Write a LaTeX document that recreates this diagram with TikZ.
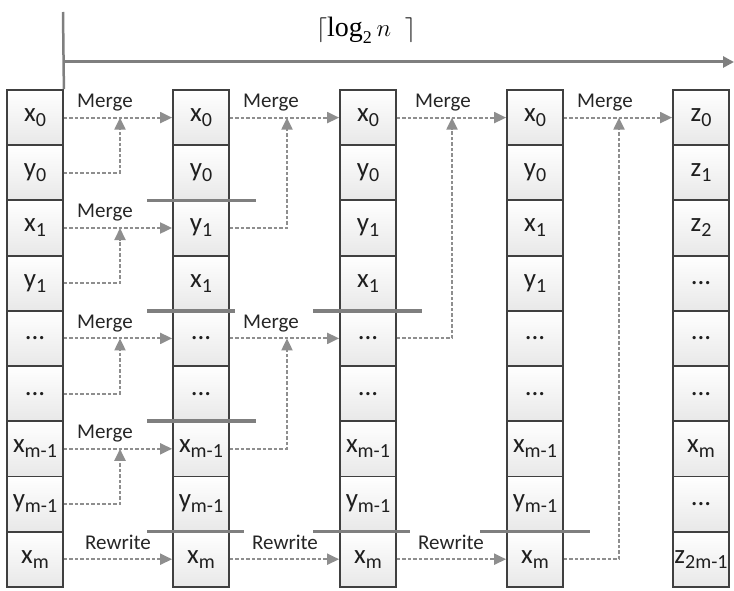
\documentclass[tikz,border=0pt]{standalone}
\usepackage[no-math]{fontspec}
\setmainfont{Carlito}
\newfontfamily\lsf{Liberation Serif}
\usetikzlibrary{arrows.meta}
\definecolor{bordc}{HTML}{404040}
\definecolor{lnc}{HTML}{8E8E8E}
\definecolor{axc}{HTML}{7F7F7F}
\newcommand\cellt[2]{#1\raisebox{-5pt}{\fontsize{20}{20}\selectfont #2}}
\newcommand\ddd{...}
\begin{document}
\begin{tikzpicture}[x=1pt,y=-1pt,
  cell/.style={draw=bordc, line width=1.8pt, minimum width=56pt, minimum height=55.2pt,
    inner sep=0pt, top color=white, bottom color=black!9, font=\fontsize{27}{27}\selectfont, text=black!88},
  conn/.style={draw=lnc, line width=2pt, dash pattern=on 3.5pt off 2pt,
    -{Triangle[length=12pt,width=11pt]}},
  lab/.style={font=\fontsize{21}{21}\selectfont, fill=white, inner xsep=8pt, inner ysep=7pt,
    anchor=base, text=black!85},
  bar/.style={draw=axc, line width=3.5pt},
  axis/.style={draw=axc, line width=3pt},
]
\useasboundingbox (0,0) rectangle (734,591);

% column 1
\node[cell] (c1r0) at (35,117.6) {\cellt{x}{0}};
\node[cell] (c1r1) at (35,172.8) {\cellt{y}{0}};
\node[cell] (c1r2) at (35,228.0) {\cellt{x}{1}};
\node[cell] (c1r3) at (35,283.2) {\cellt{y}{1}};
\node[cell] (c1r4) at (35,338.4) {\ddd};
\node[cell] (c1r5) at (35,393.6) {\ddd};
\node[cell] (c1r6) at (35,448.8) {\cellt{x}{m-1}};
\node[cell] (c1r7) at (35,504.0) {\cellt{y}{m-1}};
\node[cell] (c1r8) at (35,559.2) {\cellt{x}{m}};
% column 2
\node[cell] (c2r0) at (201,117.6) {\cellt{x}{0}};
\node[cell] (c2r1) at (201,172.8) {\cellt{y}{0}};
\node[cell] (c2r2) at (201,228.0) {\cellt{y}{1}};
\node[cell] (c2r3) at (201,283.2) {\cellt{x}{1}};
\node[cell] (c2r4) at (201,338.4) {\ddd};
\node[cell] (c2r5) at (201,393.6) {\ddd};
\node[cell] (c2r6) at (201,448.8) {\cellt{x}{m-1}};
\node[cell] (c2r7) at (201,504.0) {\cellt{y}{m-1}};
\node[cell] (c2r8) at (201,559.2) {\cellt{x}{m}};
% column 3
\node[cell] (c3r0) at (368,117.6) {\cellt{x}{0}};
\node[cell] (c3r1) at (368,172.8) {\cellt{y}{0}};
\node[cell] (c3r2) at (368,228.0) {\cellt{y}{1}};
\node[cell] (c3r3) at (368,283.2) {\cellt{x}{1}};
\node[cell] (c3r4) at (368,338.4) {\ddd};
\node[cell] (c3r5) at (368,393.6) {\ddd};
\node[cell] (c3r6) at (368,448.8) {\cellt{x}{m-1}};
\node[cell] (c3r7) at (368,504.0) {\cellt{y}{m-1}};
\node[cell] (c3r8) at (368,559.2) {\cellt{x}{m}};
% column 4
\node[cell] (c4r0) at (535,117.6) {\cellt{x}{0}};
\node[cell] (c4r1) at (535,172.8) {\cellt{y}{0}};
\node[cell] (c4r2) at (535,228.0) {\cellt{x}{1}};
\node[cell] (c4r3) at (535,283.2) {\cellt{y}{1}};
\node[cell] (c4r4) at (535,338.4) {\ddd};
\node[cell] (c4r5) at (535,393.6) {\ddd};
\node[cell] (c4r6) at (535,448.8) {\cellt{x}{m-1}};
\node[cell] (c4r7) at (535,504.0) {\cellt{y}{m-1}};
\node[cell] (c4r8) at (535,559.2) {\cellt{x}{m}};
% column 5
\node[cell] (c5r0) at (701,117.6) {\cellt{z}{0}};
\node[cell] (c5r1) at (701,172.8) {\cellt{z}{1}};
\node[cell] (c5r2) at (701,228.0) {\cellt{z}{2}};
\node[cell] (c5r3) at (701,283.2) {\ddd};
\node[cell] (c5r4) at (701,338.4) {\ddd};
\node[cell] (c5r5) at (701,393.6) {\ddd};
\node[cell] (c5r6) at (701,448.8) {\cellt{x}{m}};
\node[cell] (c5r7) at (701,504.0) {\ddd};
\node[cell] (c5r8) at (701,559.2) {\cellt{z}{2m-1}};

% axis
\coordinate (vtop) at (63,12);
\coordinate (ax0) at (63,62);
\coordinate (ax1) at (734,62);
\draw[draw=axc, line width=2.5pt] (vtop) -- (c1r0.north east);
\draw[axis, -{Triangle[length=11pt,width=11pt]}] (ax0) -- (ax1);
\node (lg) at (366,30) {\fontsize{28}{28}\selectfont$\Bigl\lceil \mbox{\lsf log}_{\mbox{\lsf\fontsize{18}{18}\selectfont 2}} \, n\;\;\Bigr\rceil$};

% labels 1->2
\node[lab] (l12a) at (105,107.6) {Merge};
\node[lab] (l12b) at (105,217.9) {Merge};
\node[lab] (l12c) at (105,328.4) {Merge};
\node[lab] (l12d) at (105,438.8) {Merge};
\node[lab] (l12e) at (118,549.2) {Rewrite};

% bars column 2
\foreach \y in {200.4,310.8,421.2,531.6} \draw[bar] (147,\y) -- (256,\y);

% labels 2->3
\node[lab] (l23a) at (271,107.6) {Merge};
\node[lab] (l23b) at (271,328.4) {Merge};
\node[lab] (l23c) at (285,549.2) {Rewrite};

% bars column 3
\foreach \y in {310.8,531.6} \draw[bar] (313,\y) -- (422,\y);

% labels 3->4
\node[lab] (l34a) at (443,107.6) {Merge};
\node[lab] (l34b) at (451,549.2) {Rewrite};

% bars column 4
\draw[bar] (480,531.6) -- (590,531.6);

% labels 4->5
\node[lab] (l45a) at (605,107.6) {Merge};

% connectors 1->2
\coordinate (v12a) at (120,117.6);
\coordinate (v12b) at (120,228);
\coordinate (v12c) at (120,338.4);
\coordinate (v12d) at (120,448.8);
\draw[conn] (c1r0.east) -- (c2r0.west);
\draw[conn] (c1r2.east) -- (c2r2.west);
\draw[conn] (c1r4.east) -- (c2r4.west);
\draw[conn] (c1r6.east) -- (c2r6.west);
\draw[conn] (c1r8.east) -- (c2r8.west);
\draw[conn] (c1r1.east) -| (v12a);
\draw[conn] (c1r3.east) -| (v12b);
\draw[conn] (c1r5.east) -| (v12c);
\draw[conn] (c1r7.east) -| (v12d);

% connectors 2->3
\coordinate (v23a) at (287,117.6);
\coordinate (v23b) at (287,338.4);
\draw[conn] (c2r0.east) -- (c3r0.west);
\draw[conn] (c2r4.east) -- (c3r4.west);
\draw[conn] (c2r8.east) -- (c3r8.west);
\draw[conn] (c2r2.east) -| (v23a);
\draw[conn] (c2r6.east) -| (v23b);

% connectors 3->4
\coordinate (v34a) at (452,117.6);
\draw[conn] (c3r0.east) -- (c4r0.west);
\draw[conn] (c3r8.east) -- (c4r8.west);
\draw[conn] (c3r4.east) -| (v34a);

% connectors 4->5
\coordinate (v45a) at (619,117.6);
\draw[conn] (c4r0.east) -- (c5r0.west);
\draw[conn] (c4r8.east) -| (v45a);
\end{tikzpicture}
\end{document}
